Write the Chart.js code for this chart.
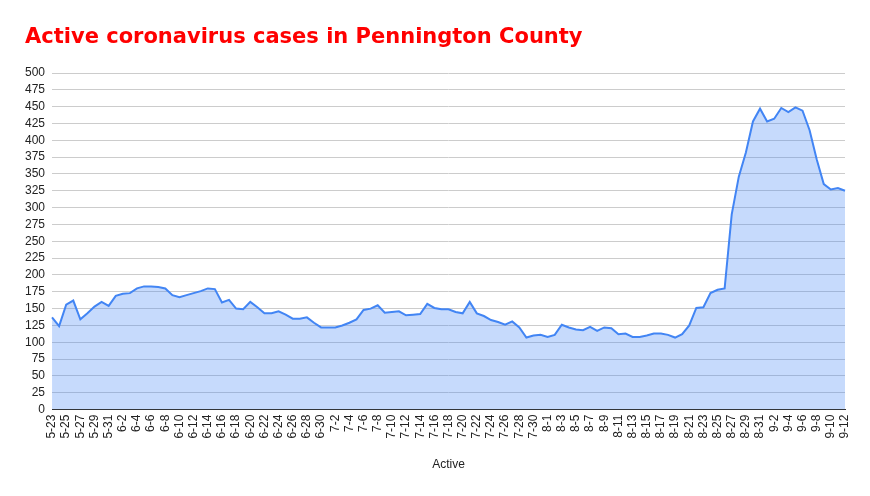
<!DOCTYPE html>
<html>
<head>
<meta charset="utf-8">
<script src="https://cdn.jsdelivr.net/npm/chart.js@4/dist/chart.umd.min.js"></script>
<style>
  html, body { margin: 0; padding: 0; background: #fff; }
  #wrap { position: relative; width: 870px; height: 496px; }
  #chartTitle {
    position: absolute; left: 25px; top: 24px;
    font: bold 21px/25px 'DejaVu Sans', sans-serif;
    color: #ff0000; white-space: nowrap;
  }
  canvas { position: absolute; left: 0; top: 0; }
</style>
</head>
<body>
<div id="wrap">
  <canvas id="activeChart" width="870" height="496"></canvas>
  <div id="chartTitle">Active coronavirus cases in Pennington County</div>
</div>
<script>
// Dates (one per day)
const dates = [
  '5-23','5-24','5-25','5-26','5-27','5-28','5-29','5-30','5-31',
  '6-1','6-2','6-3','6-4','6-5','6-6','6-7','6-8','6-9','6-10','6-11','6-12','6-13','6-14','6-15',
  '6-16','6-17','6-18','6-19','6-20','6-21','6-22','6-23','6-24','6-25','6-26','6-27','6-28','6-29','6-30',
  '7-1','7-2','7-3','7-4','7-5','7-6','7-7','7-8','7-9','7-10','7-11','7-12','7-13','7-14','7-15','7-16',
  '7-17','7-18','7-19','7-20','7-21','7-22','7-23','7-24','7-25','7-26','7-27','7-28','7-29','7-30','7-31',
  '8-1','8-2','8-3','8-4','8-5','8-6','8-7','8-8','8-9','8-10','8-11','8-12','8-13','8-14','8-15','8-16',
  '8-17','8-18','8-19','8-20','8-21','8-22','8-23','8-24','8-25','8-26','8-27','8-28','8-29','8-30','8-31',
  '9-1','9-2','9-3','9-4','9-5','9-6','9-7','9-8','9-9','9-10','9-11','9-12'
];

// Active cases
const activeCases = [
  137, 124, 156, 162, 134, 143, 153, 160, 154,
  169, 172, 173, 180, 183, 183, 182, 180, 170, 167, 170, 173, 176, 180, 179,
  159, 163, 150, 149, 160, 152, 143, 143, 146, 141, 135, 135, 137, 129, 122,
  122, 122, 125, 129, 134, 148, 150, 155, 144, 145, 146, 140, 141, 142, 157, 151,
  149, 149, 145, 143, 160, 143, 139, 133, 130, 126, 131, 122, 107, 110, 111,
  108, 111, 126, 122, 119, 118, 123, 117, 122, 121, 112, 113, 108, 108, 110, 113,
  113, 111, 107, 112, 125, 151, 152, 173, 178, 180, 290, 346, 382, 428, 447,
  428, 432, 448, 442, 449, 444, 415, 372, 335, 327, 329, 325
];

const yMin = 0;
const yMax = 500;
const yStep = 25;

new Chart(document.getElementById('activeChart'), {
  type: 'line',
  data: {
    labels: dates,
    datasets: [{
      label: 'Active',
      data: activeCases,
      borderColor: '#4285f4',
      backgroundColor: 'rgba(66, 133, 244, 0.3)',
      borderWidth: 2,
      fill: 'origin',
      pointRadius: 0,
      tension: 0
    }]
  },
  options: {
    responsive: false,
    animation: false,
    layout: {
      padding: { left: 18, right: 25, top: 73, bottom: 10 }
    },
    plugins: {
      legend: { display: false },
      tooltip: { enabled: false },
      title: { display: false }
    },
    scales: {
      x: {
        grid: { display: false, drawTicks: false },
        border: { display: true, color: '#333333', width: 1 },
        ticks: {
          autoSkip: false,
          maxRotation: 90,
          minRotation: 90,
          padding: 5,
          color: '#222222',
          font: { family: 'Liberation Sans', size: 12 },
          callback: function (value, index) {
            return index % 2 === 0 ? this.getLabelForValue(value) : '';
          }
        },
        title: {
          display: true,
          text: 'Active',
          color: '#222222',
          font: { family: 'Liberation Sans', size: 12 },
          padding: { top: 14, bottom: 14 }
        }
      },
      y: {
        min: yMin,
        max: yMax,
        grid: { color: '#cccccc', drawTicks: false },
        border: { display: false },
        ticks: {
          stepSize: yStep,
          autoSkip: false,
          padding: 7,
          color: '#222222',
          font: { family: 'Liberation Sans', size: 12 }
        }
      }
    }
  }
});
</script>
</body>
</html>
